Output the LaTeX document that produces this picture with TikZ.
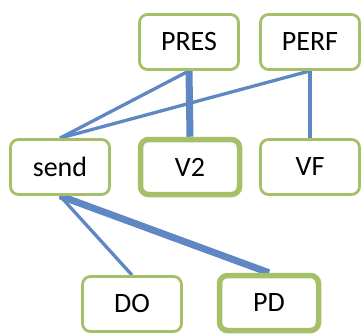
\documentclass[tikz,border=0pt]{standalone}
\usepackage{fontspec}
\setmainfont{Carlito}
\usetikzlibrary{backgrounds}
\definecolor{boxgreen}{RGB}{165,192,105}
\definecolor{linkblue}{RGB}{95,135,195}
\begin{document}
\begin{tikzpicture}[x=1pt,y=1pt,
  box/.style={draw=boxgreen, line width=2.8pt, fill=white, rounded corners=8pt,
    minimum width=99pt, minimum height=55pt, inner sep=0pt,
    font=\fontsize{28}{31}\selectfont},
  headbox/.style={box, line width=5.5pt},
  thin link/.style={draw=linkblue, line width=3.3pt},
  thick link/.style={draw=linkblue, line width=7pt}]
\useasboundingbox (0,0) rectangle (361,333);
\node[box] (pres) at (189,291) {PRES};
\node[box] (perf) at (310,291) {PERF};
\node[box] (send) at (60,166) {send};
\node[headbox] (v2) at (190,166) {V2};
\node[box] (vf) at (310,166) {VF};
\node[box] (do) at (132,29) {DO};
\node[headbox] (pd) at (269,30) {PD};
\begin{scope}[on background layer]
\draw[thin link] (pres.south) -- (send.north);
\draw[thin link] (perf.south) -- (send.north);
\draw[thick link] (pres.south) -- (v2.north);
\draw[thin link] (perf.south) -- (vf.north);
\draw[thin link] (send.south) -- (do.north);
\draw[thick link] (send.south) -- (pd.north);
\end{scope}
\end{tikzpicture}
\end{document}
